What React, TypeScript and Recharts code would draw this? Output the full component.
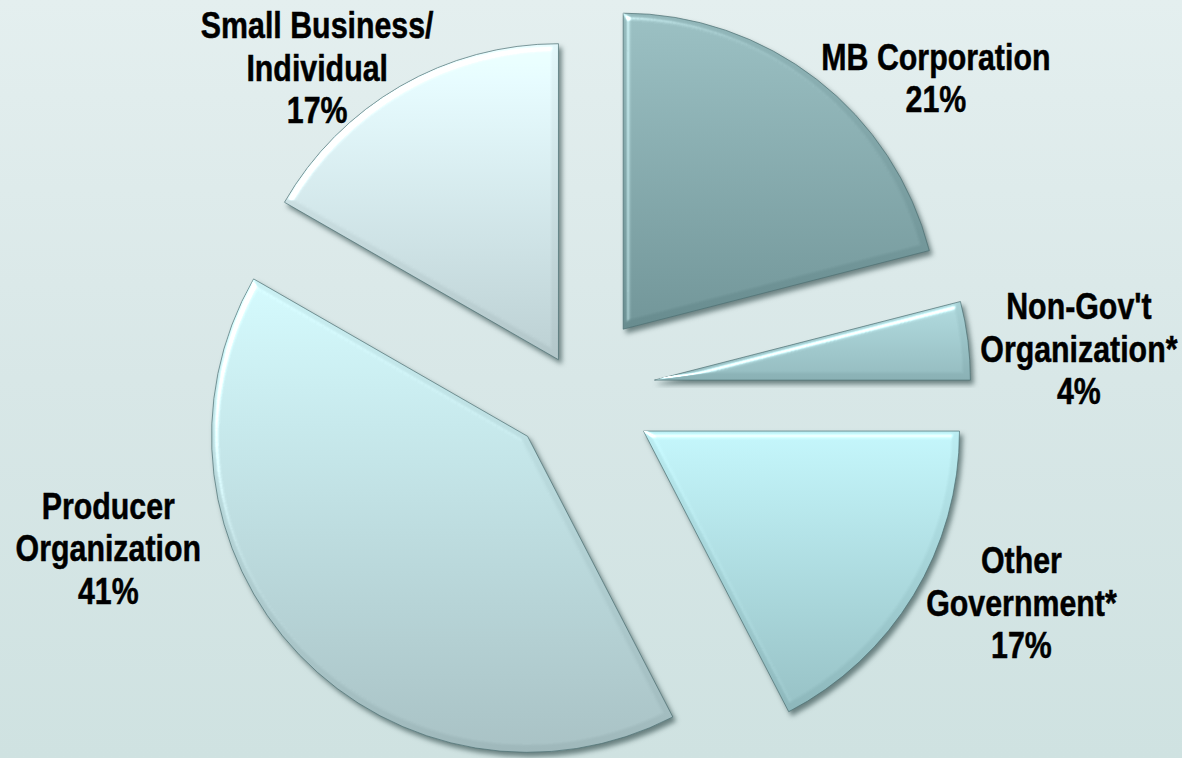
import React from 'react';
import { PieChart, Pie, Cell, Sector } from 'recharts';

// slice names (\n = line break in label) and shares in percent, clockwise from 12 o'clock
const categories = [
  'MB Corporation',
  "Non-Gov't\nOrganization*",
  'Other\nGovernment*',
  'Producer\nOrganization',
  'Small Business/\nIndividual',
];
const shares = [21.0, 4.0, 17.4, 40.9, 16.7];

// styling per slice
const explode = [77, 79, 79, 67, 35];
const sliceColors = [
  ['#92b7ba', '#688c8f'],
  ['#a9d3d7', '#8ab1b5'],
  ['#bbedf2', '#8db7bb'],
  ['#cbf1f4', '#9fb8bb'],
  ['#e3f8fb', '#b2c6c9'],
];
// label block centre relative to the outer middle of the exploded slice
const labelShift = [
  [119, -1.5],
  [111, 8.5],
  [108, 7.5],
  [-191, -106.5],
  [-83, -18.5],
];

const data = categories.map((name, i) => ({ name, value: shares[i] }));

const RAD = Math.PI / 180;
const LINE_H = 42.5;
// no Arial Narrow available: squeeze Liberation Sans (Arial metrics) horizontally
const FONT = "'Liberation Sans', Arial, sans-serif";
const NARROW = 0.82;

const renderSlice = (props: any) => {
  const { cx, cy, outerRadius, startAngle, endAngle, midAngle, percent, index, name } = props;
  const d = explode[index];
  const ux = Math.cos(-midAngle * RAD);
  const uy = Math.sin(-midAngle * RAD);
  const sx = cx + ux * d;
  const sy = cy + uy * d;
  const edgeX = cx + ux * (d + outerRadius);
  const edgeY = cy + uy * (d + outerRadius);
  const tx = edgeX + labelShift[index][0];
  const ty = edgeY + labelShift[index][1];
  const lines = [...String(name).split('\n'), `${Math.round(percent * 100)}%`];
  const firstBase = ty - ((lines.length - 1) / 2) * LINE_H + 13;

  return (
    <g>
      <g filter="url(#bevel)">
        <Sector
          cx={sx}
          cy={sy}
          innerRadius={0}
          outerRadius={outerRadius}
          startAngle={startAngle}
          endAngle={endAngle}
          fill={`url(#slice${index})`}
          stroke="#4f7073"
          strokeOpacity={0.7}
          strokeWidth={1}
        />
      </g>
      <g transform={`translate(${tx} 0) scale(${NARROW} 1)`}>
        <text
          x={0}
          y={firstBase}
          textAnchor="middle"
          fontFamily={FONT}
          fontWeight={700}
          fontSize={37}
          fill="#000"
          stroke="#000"
          strokeWidth={0.5}
        >
          {lines.map((l, k) => (
            <tspan key={k} x={0} y={firstBase + k * LINE_H}>
              {l}
            </tspan>
          ))}
        </text>
      </g>
    </g>
  );
};

export default function App() {
  return (
    <div
      style={{
        position: 'absolute',
        left: 0,
        top: 0,
        width: 1182,
        height: 758,
        background: 'linear-gradient(180deg, #e4efef 0%, #d8e7e7 50%, #cfe2e1 100%)',
      }}
    >
      <PieChart width={1182} height={758} margin={{ top: 0, right: 0, bottom: 0, left: 0 }}>
        <defs>
          {sliceColors.map(([top, bottom], i) => (
            <linearGradient key={i} id={`slice${i}`} x1="0" y1="0" x2="0" y2="1">
              <stop offset="0%" stopColor={top} />
              <stop offset="100%" stopColor={bottom} />
            </linearGradient>
          ))}
          <filter id="bevel" x="-5%" y="-5%" width="115%" height="115%" colorInterpolationFilters="sRGB">
            <feGaussianBlur in="SourceAlpha" stdDeviation="3" result="blur" />
            <feSpecularLighting
              in="blur"
              surfaceScale="5"
              specularConstant="1"
              specularExponent="26"
              lightingColor="#ffffff"
              result="spec"
            >
              <feDistantLight azimuth="225" elevation="35" />
            </feSpecularLighting>
            <feComposite in="spec" in2="SourceAlpha" operator="in" result="specIn" />
            <feComposite in="SourceGraphic" in2="specIn" operator="arithmetic" k1="0" k2="1" k3="0.9" k4="0" result="lit" />
            <feGaussianBlur in="SourceAlpha" stdDeviation="2.5" result="sblur" />
            <feOffset in="sblur" dx="3" dy="4" result="soff" />
            <feFlood floodColor="#24403f" floodOpacity="0.6" />
            <feComposite in2="soff" operator="in" result="shadow" />
            <feMerge>
              <feMergeNode in="shadow" />
              <feMergeNode in="lit" />
            </feMerge>
          </filter>
        </defs>
        <Pie
          data={data}
          dataKey="value"
          nameKey="name"
          cx={576}
          cy={390}
          innerRadius={0}
          outerRadius={316}
          startAngle={90}
          endAngle={-270}
          stroke="none"
          label={renderSlice}
          labelLine={false}
          isAnimationActive={false}
        >
          {data.map((_, i) => (
            <Cell key={i} fill="transparent" />
          ))}
        </Pie>
      </PieChart>
    </div>
  );
}
